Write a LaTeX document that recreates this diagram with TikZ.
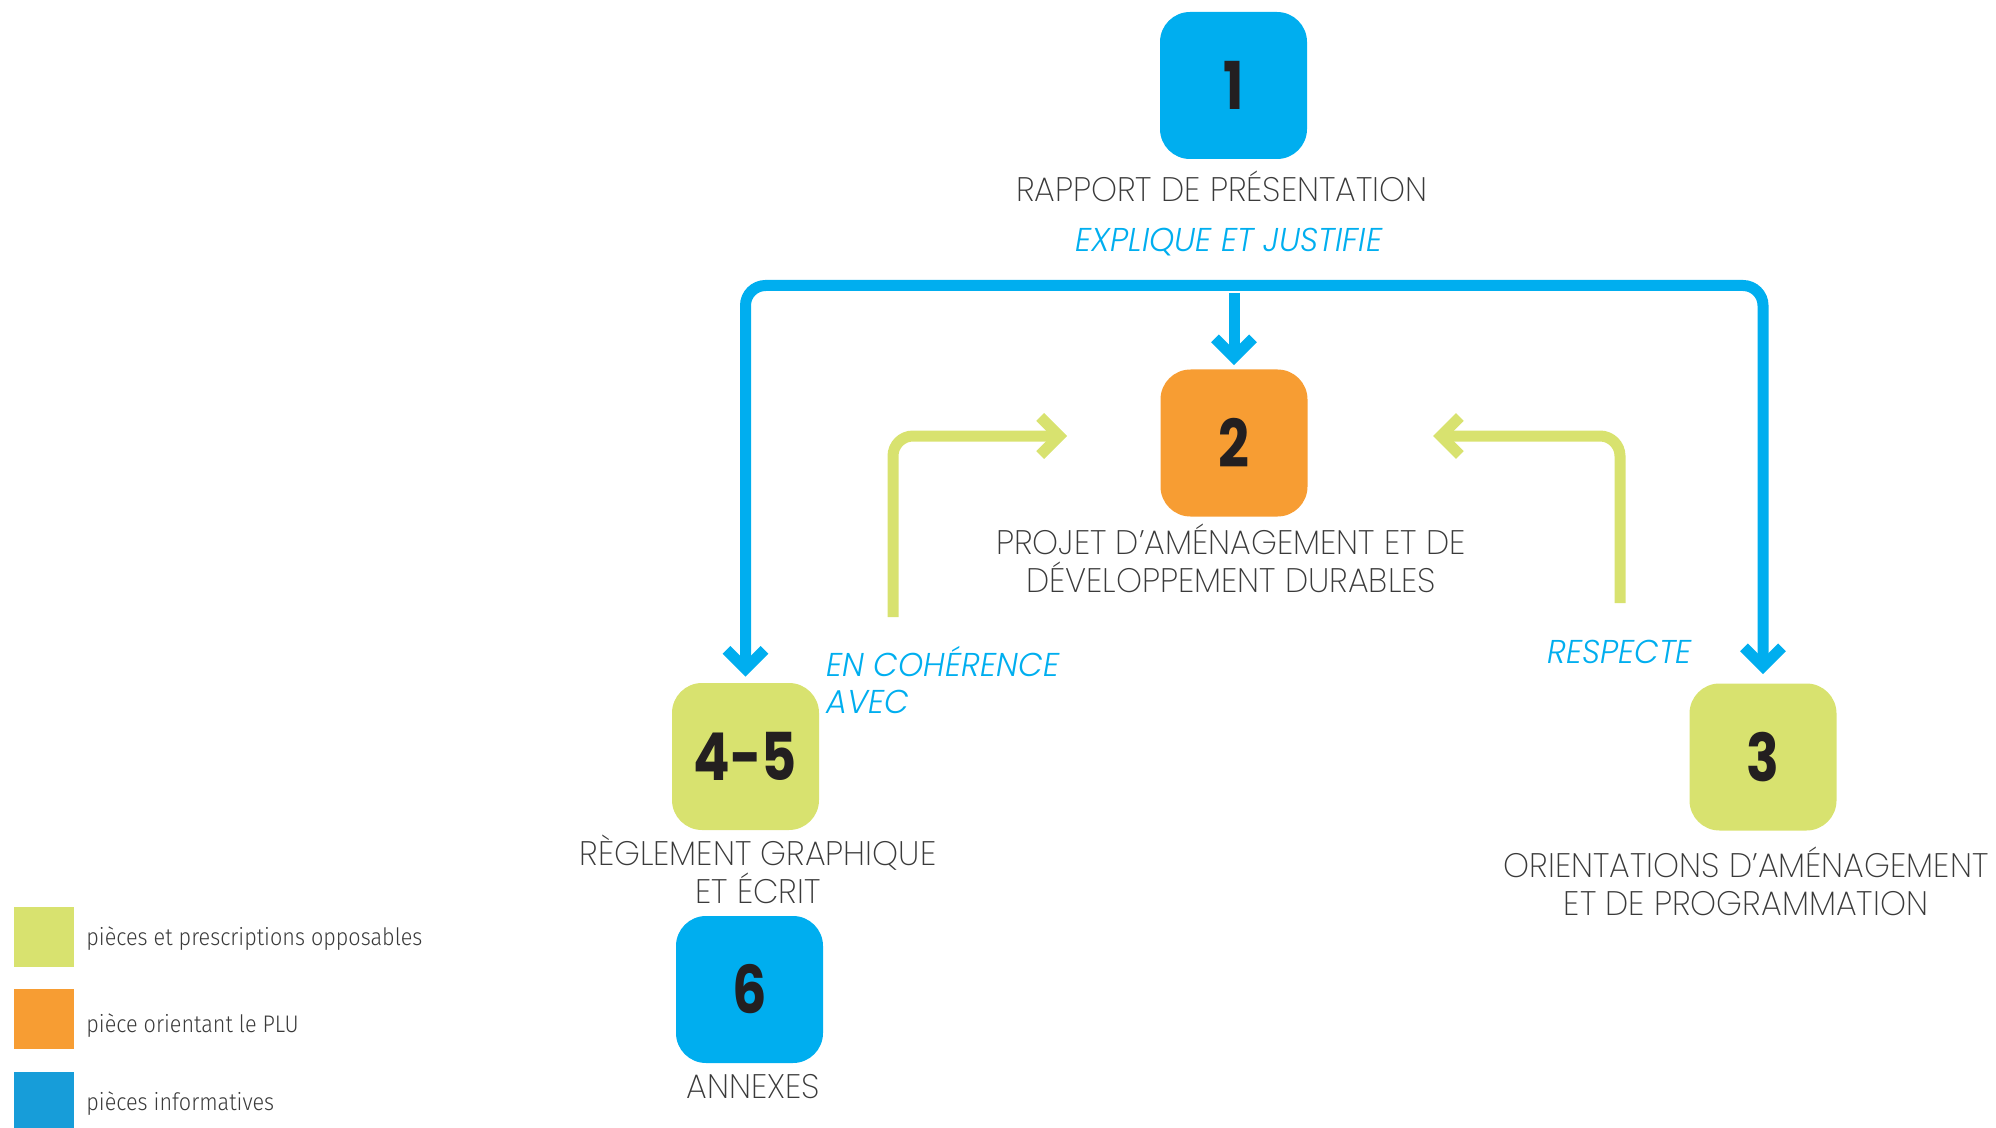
\documentclass[tikz,border=0pt]{standalone}
\usepackage{fontspec}
\setmainfont{Poppins}
\newfontfamily\piecefont{Poppins ExtraLight}[FakeStretch=0.97]
\newfontfamily\linkfont{Poppins Light Italic}[FakeStretch=0.97]
\newfontfamily\numfont{Poppins Bold}[FakeStretch=0.82]
\newfontfamily\keyfont{Fira Sans Light}[FakeStretch=0.9]
\usetikzlibrary{arrows.meta,positioning}

\definecolor{infoblue}{HTML}{00AEEF}
\definecolor{keyblue}{HTML}{179DD9}
\definecolor{orientorange}{HTML}{F79D33}
\definecolor{opposgreen}{HTML}{D8E26F}
\definecolor{numtext}{HTML}{231F20}
\definecolor{labeltext}{HTML}{3A3A3A}

\begin{document}
\begin{tikzpicture}[x=0.5pt,y=-0.5pt,
    piece/.style={rounded corners=15pt, minimum size=73.5pt, inner sep=0pt,
      text=numtext, font=\numfont\fontsize{33}{33}\selectfont},
    piecelabel/.style={anchor=base, align=center, inner sep=0pt, text=labeltext,
      font=\piecefont\fontsize{17}{19}\selectfont},
    linklabel/.style={anchor=base, align=left, inner sep=0pt, text=infoblue,
      font=\linkfont\fontsize{16.5}{18.5}\selectfont},
    keybox/.style={minimum size=30pt, inner sep=0pt},
    keylabel/.style={anchor=base west, inner sep=0pt, text=labeltext,
      font=\keyfont\fontsize{12}{14}\selectfont},
    barb/.tip={Straight Barb[length=9.5pt,width=19pt,line cap=butt,line join=miter]},
    infolink/.style={draw=infoblue, line width=5.5pt, rounded corners=10pt},
    opposlink/.style={draw=opposgreen, line width=5.5pt, rounded corners=10pt}]
  \useasboundingbox (0,0) rectangle (1996,1128);

  % the pieces of the PLU
  \node[piece, fill=infoblue] (p1) at (1233.5,85.5) {1};
  \node[piece, fill=orientorange] (p2) at (1234,443) {2};
  \node[piece, fill=opposgreen] (p45) at (745.5,756.5) {4-5};
  \node[piece, fill=opposgreen] (p3) at (1763,757) {3};
  \node[piece, fill=infoblue] (p6) at (749.5,989.5) {6};

  % labels sit on the baseline of their last line
  \node[piecelabel] (l1) at (1222,202) {RAPPORT DE PRÉSENTATION};
  \node[piecelabel] (l2) at (1231,592) {PROJET D’AMÉNAGEMENT ET DE\\DÉVELOPPEMENT DURABLES};
  \node[piecelabel] (l45) at (758,903) {RÈGLEMENT GRAPHIQUE\\ET ÉCRIT};
  \node[piecelabel] (l3) at (1746,915) {ORIENTATIONS D’AMÉNAGEMENT\\ET DE PROGRAMMATION};
  \node[piecelabel] (l6) at (753,1098) {ANNEXES};

  % links between pieces
  \node[linklabel, anchor=base] (t1) at (1229,252) {EXPLIQUE ET JUSTIFIE};
  \node[linklabel, anchor=base west] (t45) at (826,713) {EN COHÉRENCE\\AVEC};
  \node[linklabel, anchor=base west] (t3) at (1547,663) {RESPECTE};

  \coordinate (split) at (1234,285.5);
  \draw[infolink, {barb}-{barb}] ([yshift=3pt]p45.north) |- (split) -| ([yshift=4.5pt]p3.north);
  \draw[infolink, -{barb}] ([yshift=-3.75pt]split) -- ([yshift=2pt]p2.north);

  \coordinate (coh) at (893,617);
  \coordinate (cohend) at (1067,436);
  \coordinate (resp) at (1620,603);
  \coordinate (respend) at (1433,436);
  \draw[opposlink, -{barb}] (coh) |- (cohend);
  \draw[opposlink, -{barb}] (resp) |- (respend);

  % legend
  \node[keybox, fill=opposgreen] (k1) at (44,937) {};
  \node[keybox, fill=orientorange] (k2) at (44,1019) {};
  \node[keybox, fill=keyblue] (k3) at (44,1102) {};
  \node[keylabel] at (86,945) {pièces et prescriptions opposables};
  \node[keylabel] at (86,1032) {pièce orientant le PLU};
  \node[keylabel] at (86,1110) {pièces informatives};
\end{tikzpicture}
\end{document}
